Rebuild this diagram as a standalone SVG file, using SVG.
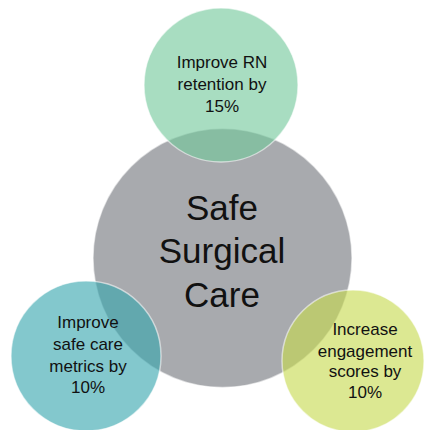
<svg xmlns="http://www.w3.org/2000/svg" width="430" height="430" viewBox="0 0 430 430">
  <style>
    .disc { stroke: #ffffff; stroke-opacity: 0.55; stroke-width: 1.5; }
    .sat { fill-opacity: 0.62; }
    .lbl { font-family: "Liberation Sans", Arial, sans-serif; font-size: 17px; fill: #111111; text-anchor: middle; }
    .big { font-family: "Liberation Sans", Arial, sans-serif; font-size: 35px; fill: #111111; text-anchor: middle; }
  </style>
  <rect width="430" height="430" fill="#ffffff"/>

  <g id="center">
    <circle class="disc" cx="222.5" cy="258" r="129.5" fill="#a8aaae"/>
    <text class="big" x="222" y="220">Safe</text>
    <text class="big" x="222" y="263">Surgical</text>
    <text class="big" x="222" y="307">Care</text>
  </g>

  <g id="retention">
    <circle class="disc sat" cx="221" cy="85" r="77" fill="#73c89b"/>
    <text class="lbl" x="222" y="68">Improve RN</text>
    <text class="lbl" x="222" y="90">retention by</text>
    <text class="lbl" x="222" y="112">15%</text>
  </g>

  <g id="safety">
    <circle class="disc sat" cx="86" cy="356" r="75" fill="#37a6ae"/>
    <text class="lbl" x="88" y="328">Improve</text>
    <text class="lbl" x="88" y="350">safe care</text>
    <text class="lbl" x="88" y="372">metrics by</text>
    <text class="lbl" x="88" y="393">10%</text>
  </g>

  <g id="engagement">
    <circle class="disc sat" cx="353" cy="361" r="71" fill="#c6da4f"/>
    <text class="lbl" x="365" y="335">Increase</text>
    <text class="lbl" x="365" y="357">engagement</text>
    <text class="lbl" x="365" y="377">scores by</text>
    <text class="lbl" x="365" y="398">10%</text>
  </g>

  <g id="connectors"></g>
</svg>
